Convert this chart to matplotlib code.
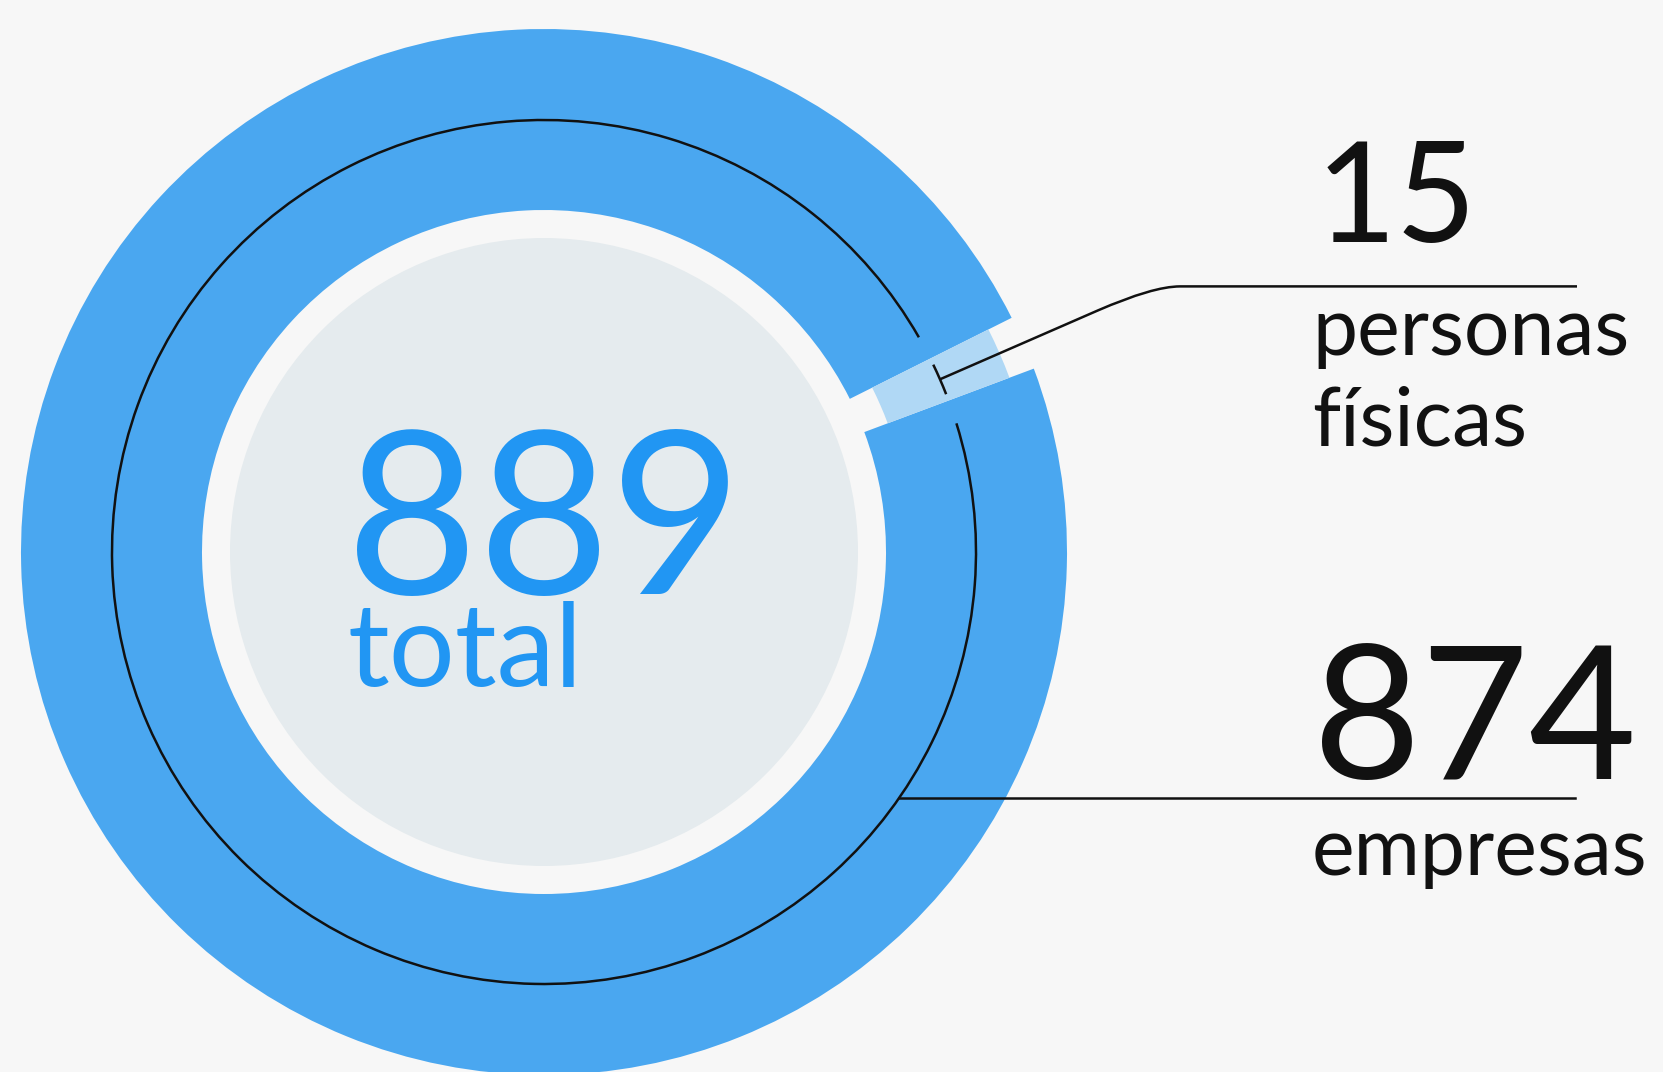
import numpy as np
import matplotlib.pyplot as plt
from matplotlib.patches import Circle, Arc, PathPatch
from matplotlib.path import Path

# data
labels = ["empresas", "personas\nfísicas"]
values = [874, 15]
total = sum(values)

BG = "#f7f7f7"
DARK_BLUE = "#4aa7f0"
LIGHT_BLUE = "#b0d8f5"
CENTER_GRAY = "#e5ebee"
TEXT_BLUE = "#2196f3"
INK = "#111111"

W, H = 1663, 1072
CX, CY = 544, 520
R_OUT, R_IN = 523, 342
R_SMALL_OUT, R_SMALL_IN = 497, 367
R_CENTER = 314
R_ARC = 432
START = 26.6

fig = plt.figure(figsize=(W / 100, H / 100), dpi=100, facecolor=BG)
ax = fig.add_axes([0, 0, 1, 1])
ax.set_facecolor(BG)

# big ring (empresas)
ax.pie(values, center=(CX, CY), radius=R_OUT, startangle=START,
       colors=[DARK_BLUE, "none"], wedgeprops=dict(width=R_OUT - R_IN, linewidth=0),
       frame=True)
# smaller ring (personas fisicas)
ax.pie(values, center=(CX, CY), radius=R_SMALL_OUT, startangle=START,
       colors=["none", LIGHT_BLUE],
       wedgeprops=dict(width=R_SMALL_OUT - R_SMALL_IN, linewidth=0), frame=True)

ax.add_patch(Circle((CX, CY), R_CENTER, facecolor=CENTER_GRAY, edgecolor="none"))

# thin arcs along each slice
spans = np.array(values) / total * 360
starts = START + np.concatenate([[0], np.cumsum(spans)[:-1]])
insets = [3.2, 0.9]
for a0, span, pad in zip(starts, spans, insets):
    ax.add_patch(Arc((CX, CY), 2 * R_ARC, 2 * R_ARC, theta1=a0 + pad,
                     theta2=a0 + span - pad, color=INK, lw=1.8))

# leader for personas fisicas
mid = np.radians(starts[1] + spans[1] / 2)
p0 = (CX + R_ARC * np.cos(mid), CY + R_ARC * np.sin(mid))
y_line = 785.6
p1 = (1097.7, p0[1] + (1097.7 - p0[0]) * np.tan(mid))
ctrl = (p1[0] + (y_line - p1[1]) / np.tan(mid), y_line)
verts = [p0, p1, ctrl, (1180, y_line), (1577, y_line)]
codes = [Path.MOVETO, Path.LINETO, Path.CURVE3, Path.CURVE3, Path.LINETO]
ax.add_patch(PathPatch(Path(verts, codes), fill=False, edgecolor=INK, lw=1.8))

# leader for empresas
y_emp = 274.4
ang = np.arcsin((y_emp - CY) / R_ARC)
ax.plot([CX + R_ARC * np.cos(ang), 1575], [y_emp, y_emp], color=INK, lw=1.8)

# center text
ax.text(346, 478, f"{total}", fontsize=164, color=TEXT_BLUE, family="Lato",
        ha="left", va="baseline")
ax.text(347, 386, "total", fontsize=84, color=TEXT_BLUE, family="Lato",
        ha="left", va="baseline")

# right labels
ax.text(1316, 830, f"{values[1]}", fontsize=100, color=INK, family="Lato",
        ha="left", va="baseline")
for i, line in enumerate(labels[1].split("\n")):
    ax.text(1312, 717 - 90 * i, line, fontsize=58, color=INK, family="Lato",
            ha="left", va="baseline")
ax.text(1313, 292.5, f"{values[0]}", fontsize=134, color=INK, family="Lato",
        ha="left", va="baseline")
ax.text(1312, 197, labels[0], fontsize=58, color=INK, family="Lato",
        ha="left", va="baseline")

ax.set_xlim(0, W)
ax.set_ylim(0, H)
ax.set_aspect("equal")
ax.axis("off")

fig.savefig("out.png", dpi=100, facecolor=BG)
